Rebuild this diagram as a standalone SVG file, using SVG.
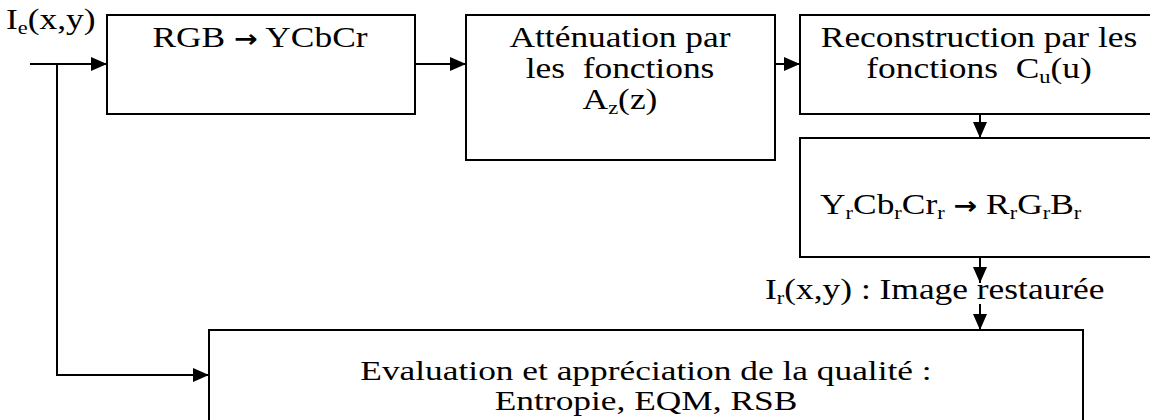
<svg xmlns="http://www.w3.org/2000/svg" width="1150" height="420" viewBox="0 0 1150 420">
<style>
.box{fill:#fff;stroke:#000;stroke-width:2}
.ln{fill:none;stroke:#000;stroke-width:2;marker-end:url(#ah)}
text{font-family:"Liberation Serif","Times New Roman",serif;font-size:30px;fill:#000;white-space:pre}
.sub{font-size:19px}
.arr{font-family:"DejaVu Sans",sans-serif;font-weight:bold;font-size:24px}
.ev{font-size:27px}
</style>
<defs>
<marker id="ah" markerUnits="userSpaceOnUse" markerWidth="16" markerHeight="14" refX="16" refY="7" orient="auto">
<path d="M0,0 L16,7 L0,14 z" fill="#000"/>
</marker>
</defs>
<rect width="1150" height="420" fill="#fff"/>

<g id="input-label">
<text transform="translate(6,29) scale(1.18,1)">I<tspan class="sub" dy="5">e</tspan><tspan dy="-5">(x,y)</tspan></text>
</g>

<g id="node-rgb2ycbcr">
<rect class="box" x="107" y="15" width="308" height="99"/>
<text transform="translate(260,47) scale(1.18,1)" text-anchor="middle">RGB <tspan class="arr">→</tspan> YCbCr</text>
</g>

<g id="node-attenuation">
<rect class="box" x="466" y="15" width="309" height="145"/>
<text transform="translate(620,0) scale(1.18,1)" text-anchor="middle"><tspan x="0" y="47">Atténuation par</tspan><tspan x="0" y="78">les  fonctions</tspan><tspan x="0" y="109">A</tspan><tspan class="sub" dy="5">z</tspan><tspan dy="-5">(z)</tspan></text>
</g>

<g id="node-reconstruction">
<rect class="box" x="800" y="15" width="360" height="99"/>
<text transform="translate(979,0) scale(1.18,1)" text-anchor="middle"><tspan x="0" y="47">Reconstruction par les</tspan><tspan x="0" y="78">fonctions  C</tspan><tspan class="sub" dy="5">u</tspan><tspan dy="-5">(u)</tspan></text>
</g>

<g id="node-ycbcr2rgb">
<rect class="box" x="800" y="138" width="360" height="119"/>
<text transform="translate(820,214) scale(1.18,1)">Y<tspan class="sub" dy="5">r</tspan><tspan dy="-5">Cb</tspan><tspan class="sub" dy="5">r</tspan><tspan dy="-5">Cr</tspan><tspan class="sub" dy="5">r</tspan><tspan dy="-5"> </tspan><tspan class="arr">→</tspan><tspan> R</tspan><tspan class="sub" dy="5">r</tspan><tspan dy="-5">G</tspan><tspan class="sub" dy="5">r</tspan><tspan dy="-5">B</tspan><tspan class="sub" dy="5">r</tspan></text>
</g>

<g id="output-label">
<text transform="translate(765,299) scale(1.18,1)">I<tspan class="sub" dy="5">r</tspan><tspan dy="-5">(x,y) : Image restaurée</tspan></text>
</g>

<g id="node-evaluation">
<rect class="box" x="209" y="330" width="874" height="110"/>
<text class="ev" transform="translate(646,380) scale(1.31,1)" text-anchor="middle">Evaluation et appréciation de la qualité :</text>
<text class="ev" transform="translate(646,410) scale(1.31,1)" text-anchor="middle">Entropie, EQM, RSB</text>
</g>

<g id="connectors">
<path class="ln" d="M30,64 H107"/>
<path class="ln" d="M415,64 H466"/>
<path class="ln" d="M775,64 H800"/>
<path class="ln" d="M980,114 V138"/>
<path class="ln" d="M980,257 V283"/>
<path class="ln" d="M980,304 V330"/>
<path class="ln" d="M57,64 V375 H209"/>
</g>
</svg>
